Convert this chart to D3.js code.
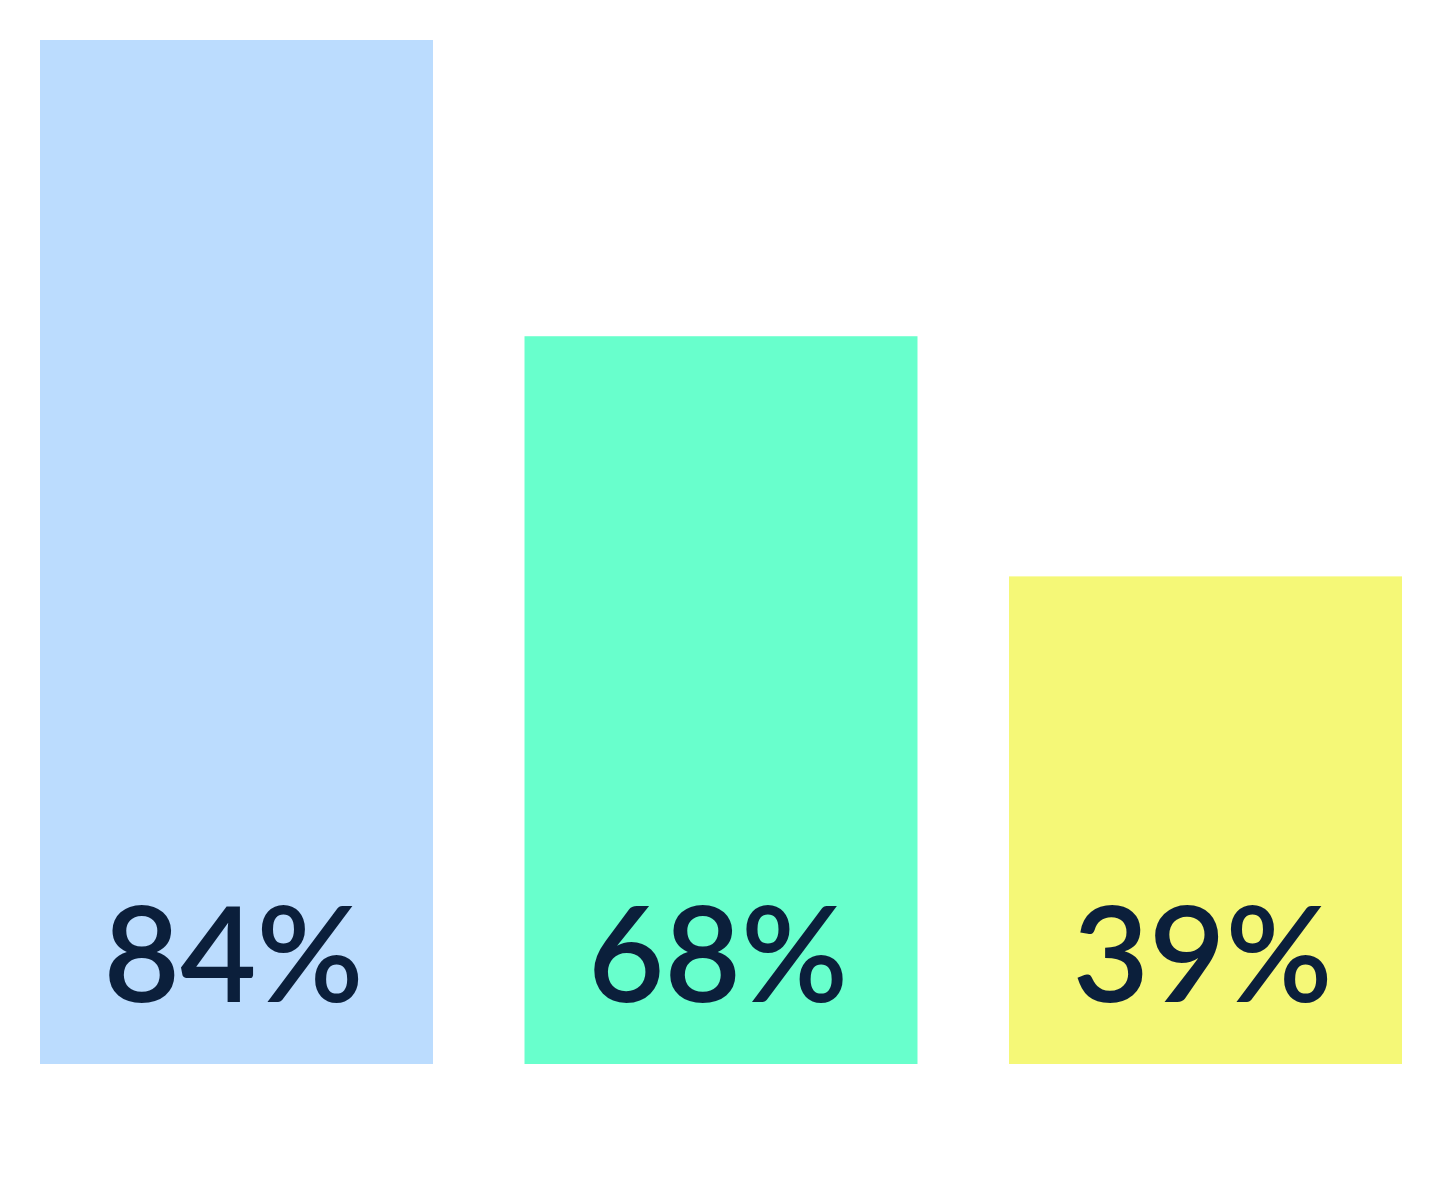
<!DOCTYPE html>
<html>
<head>
<meta charset="utf-8">
<script src="https://cdn.jsdelivr.net/npm/d3@7"></script>
<style>
  html, body { margin: 0; padding: 0; background: #ffffff; }
  svg { display: block; }
</style>
</head>
<body>
<svg id="chart" width="1440" height="1200"></svg>
<script>
// Data
const categories = ["A", "B", "C"];
const barValues = [84, 59.7, 40];          // bar heights as drawn in the picture
const labels = ["84%", "68%", "39%"];       // printed labels
const colors = ["#bbdcfe", "#68ffcc", "#f5f877"];

const svg = d3.select("#chart");
const W = 1440, H = 1200;
const margin = { top: 40, right: 38, bottom: 136, left: 40 };

const x = d3.scaleBand()
  .domain(categories)
  .range([margin.left, W - margin.right])
  .paddingInner(0.1889)
  .paddingOuter(0);

const y = d3.scaleLinear()
  .domain([0, 84])
  .range([H - margin.bottom, margin.top]);

const data = categories.map((c, i) => ({ c, v: barValues[i], label: labels[i], color: colors[i] }));

svg.selectAll("rect.bar")
  .data(data)
  .join("rect")
  .attr("class", "bar")
  .attr("x", d => x(d.c))
  .attr("width", x.bandwidth())
  .attr("y", d => y(d.v))
  .attr("height", d => y(0) - y(d.v))
  .attr("fill", d => d.color);

svg.selectAll("text.lbl")
  .data(data)
  .join("text")
  .attr("class", "lbl")
  .attr("x", d => x(d.c) + x.bandwidth() / 2 - 3)
  .attr("y", y(0) - 62)
  .attr("text-anchor", "middle")
  .attr("font-family", "Lato, 'Open Sans', sans-serif")
  .attr("font-size", 132)
  .attr("font-weight", 600)
  .attr("fill", "#0b1f3b")
  .text(d => d.label);
</script>
</body>
</html>
